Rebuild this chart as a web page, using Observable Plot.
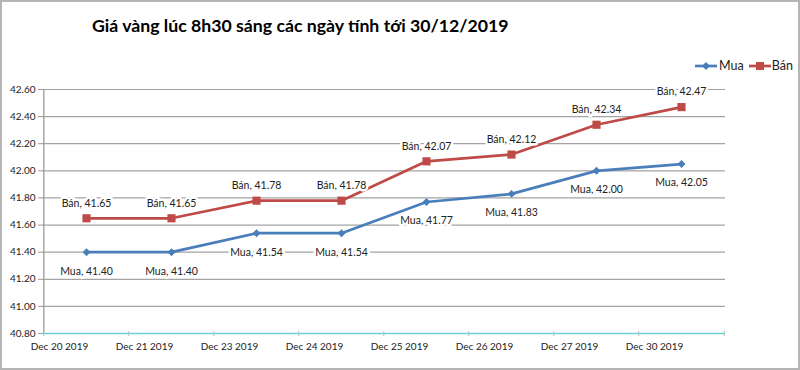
<!DOCTYPE html>
<html><head><meta charset="utf-8">
<script src="https://cdn.jsdelivr.net/npm/d3@7"></script>
<script src="https://cdn.jsdelivr.net/npm/@observablehq/plot@0.6"></script>
<style>
body{margin:0;background:#fff}
#wrap{position:relative;width:800px;height:370px;overflow:hidden;background:#fff}
#border{position:absolute;left:0;top:0;width:800px;height:370px;box-sizing:border-box;border:2px solid #b4b4b4;pointer-events:none}
#title{position:absolute;left:92px;top:15px;font-family:Lato,sans-serif;font-weight:bold;font-size:17.7px;color:#000;white-space:nowrap}
#legend{position:absolute;left:694px;top:58px;font-family:Lato,sans-serif;font-size:12.5px;color:#222;display:flex;align-items:center;white-space:nowrap}
#legend span{display:inline-flex;align-items:center}
#chart{position:absolute;left:0;top:0}
</style></head>
<body>
<div id="wrap">
<div id="chart"></div>
<div id="title">Giá vàng lúc 8h30 sáng các ngày tính tới 30/12/2019</div>
<div id="legend"></div>
<div id="border"></div>
</div>
<script>
const dates = ["Dec 20 2019","Dec 21 2019","Dec 23 2019","Dec 24 2019","Dec 25 2019","Dec 26 2019","Dec 27 2019","Dec 30 2019"];
const mua = [41.40,41.40,41.54,41.54,41.77,41.83,42.00,42.05];
const ban = [41.65,41.65,41.78,41.78,42.07,42.12,42.34,42.47];
const yTicks = [40.8,41.0,41.2,41.4,41.6,41.8,42.0,42.2,42.4,42.6];
const seriesNames = ["Mua","Bán"];

const blue = "#4a7ebb", red = "#be4b48";
const W = 800, H = 370, mL = 42, mR = 75, mT = 89, mB = 37;
const step = (W - mL - mR) / dates.length;
const data = dates.map((d,i)=>({date:d, mua:mua[i], ban:ban[i]}));
const fmt = v => v.toFixed(2);

const chart = Plot.plot({
  width: W, height: H,
  marginLeft: mL, marginRight: mR, marginTop: mT, marginBottom: mB,
  style: {fontFamily: "Lato, sans-serif", background: "transparent"},
  x: {type: "point", domain: dates, padding: 0.5, align: 0.5},
  y: {domain: [40.8, 42.6]},
  marks: [
    Plot.ruleY(yTicks.filter(v => v > 40.8), {y: d => d, stroke: "#a3a3a3", strokeWidth: 1.2}),
    Plot.ruleY([40.8], {y: d => d, stroke: "#6fd0d0", strokeWidth: 1.3}),
    Plot.ruleX([dates[0]], {x: d => d, dx: -step/2, stroke: "#9a9a9a", strokeWidth: 1.3}),
    Plot.ruleX(dates, {x: d => d, y1: 40.8, y2: 40.8, dx: -step/2, insetTop: -2, insetBottom: -3, stroke: "#bbb"}),
    Plot.ruleX([dates[dates.length-1]], {x: d => d, y1: 40.8, y2: 40.8, dx: step/2, insetTop: -2, insetBottom: -3, stroke: "#bbb"}),
    Plot.axisY({ticks: yTicks, tickFormat: fmt, tickSize: 4, tickPadding: 3, fontSize: 10, stroke: "#9a9a9a", color: "#222", label: null}),
    Plot.axisX({tickSize: 0, tickPadding: 9, dx: -27, fontSize: 10, color: "#222", label: null}),
    Plot.line(data, {x: "date", y: "mua", stroke: blue, strokeWidth: 2.7}),
    Plot.dot(data, {x: "date", y: "mua", symbol: "diamond2", r: 3.6, fill: blue, stroke: "none"}),
    Plot.line(data, {x: "date", y: "ban", stroke: red, strokeWidth: 2.7}),
    Plot.dot(data, {x: "date", y: "ban", symbol: "square", r: 4.6, fill: red, stroke: "none"}),
    Plot.text(data, {x: "date", y: "ban", text: d => `${seriesNames[1]}, ${fmt(d.ban)}`, dy: -15, fontSize: 10.5, fill: "#222", stroke: "white", strokeWidth: 5, paintOrder: "stroke"}),
    Plot.text(data, {x: "date", y: "mua", text: d => `${seriesNames[0]}, ${fmt(d.mua)}`, dy: 19, fontSize: 10.5, fill: "#222", stroke: "white", strokeWidth: 5, paintOrder: "stroke"})
  ]
});
document.getElementById("chart").appendChild(chart);

const legend = document.getElementById("legend");
legend.innerHTML =
  `<span><svg width="24" height="12"><line x1="1" y1="6" x2="23" y2="6" stroke="${blue}" stroke-width="2.7"/><path d="M12,2 L16,6 L12,10 L8,6Z" fill="${blue}"/></svg><span style="margin-left:1px">${seriesNames[0]}</span></span>` +
  `<span style="margin-left:5px"><svg width="22" height="12"><line x1="0" y1="6" x2="22" y2="6" stroke="${red}" stroke-width="2.7"/><rect x="7" y="2" width="8" height="8" fill="${red}"/></svg><span style="margin-left:1px">${seriesNames[1]}</span></span>`;
</script>
</body></html>
